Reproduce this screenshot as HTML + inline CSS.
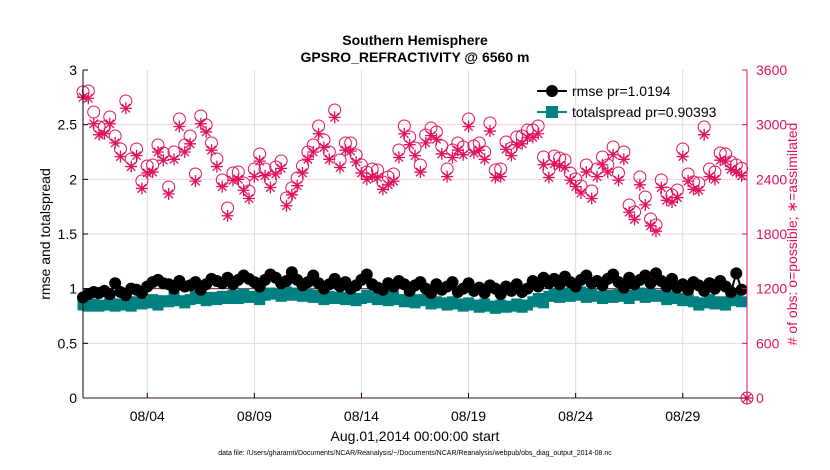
<!DOCTYPE html>
<html><head><meta charset="utf-8"><style>
body{margin:0;background:#fff;}
svg{display:block;font-family:"Liberation Sans",sans-serif;}
</style></head><body>
<svg id="chart" width="830" height="470" viewBox="0 0 830 470" xmlns="http://www.w3.org/2000/svg">
<text x="415" y="45" text-anchor="middle" font-size="14" font-weight="bold">Southern Hemisphere</text>
<text x="415" y="62" text-anchor="middle" font-size="14" font-weight="bold">GPSRO_REFRACTIVITY @ 6560 m</text>
<g id="grid"></g>
<g id="marks"></g>
<g id="axes"></g>
<text transform="translate(50,234) rotate(-90)" text-anchor="middle" font-size="14">rmse and totalspread</text>
<text transform="translate(797,234) rotate(-90)" text-anchor="middle" font-size="14" fill="#e0115f"># of obs: o=possible; ∗=assimilated</text>
<text x="415" y="441" text-anchor="middle" font-size="14">Aug.01,2014 00:00:00 start</text>
<text x="415" y="455" text-anchor="middle" font-size="7">data file: /Users/gharamti/Documents/NCAR/Reanalysis/~/Documents/NCAR/Reanalysis/webpub/obs_diag_output_2014-08.nc</text>
<g>
<line x1="537" y1="91" x2="567" y2="91" stroke="#000" stroke-width="2"/>
<circle cx="552" cy="91" r="6" fill="#000"/>
<text x="572" y="96" font-size="14">rmse pr=1.0194</text>
<line x1="537" y1="112" x2="567" y2="112" stroke="#008080" stroke-width="2"/>
<rect x="546" y="106" width="12" height="12" fill="#008080"/>
<text x="572" y="117" font-size="14">totalspread pr=0.90393</text>
</g>
</svg>
<script>
const xTickLabels=["08/04","08/09","08/14","08/19","08/24","08/29"];
const xTickDays=[3,8,13,18,23,28];
const yLeftTicks=[0,0.5,1,1.5,2,2.5,3];
const yRightTicks=[0,600,1200,1800,2400,3000,3600];
const rmse=[0.92,0.95,0.97,0.96,0.98,0.95,1.05,0.97,0.94,1.00,0.99,0.96,1.02,1.06,1.08,1.05,1.04,1.00,1.07,1.02,1.03,1.06,0.99,1.04,1.09,1.07,1.05,1.10,1.04,1.08,1.12,1.09,1.06,1.02,1.08,1.13,1.10,1.05,1.07,1.15,1.08,1.03,1.06,1.12,1.05,1.00,1.04,1.09,1.02,1.06,1.00,1.03,1.08,1.13,1.04,1.01,0.99,1.05,1.02,1.07,1.04,0.98,1.03,1.06,1.00,0.96,1.04,0.99,1.02,1.06,0.97,1.00,1.05,0.98,1.01,0.96,1.03,1.00,0.95,1.02,0.98,1.04,0.97,1.00,1.07,1.02,1.10,1.05,1.09,1.04,1.11,1.06,1.02,1.08,1.12,1.05,1.07,1.03,1.09,1.13,1.06,1.01,1.10,1.04,1.08,1.12,1.05,1.14,1.07,1.02,1.09,1.01,1.04,0.99,1.06,1.03,0.98,1.05,1.00,1.07,1.02,0.97,1.14,0.99];
const spread=[0.85,0.84,0.86,0.84,0.85,0.87,0.84,0.86,0.85,0.84,0.88,0.86,0.87,0.90,0.85,0.89,0.88,0.92,0.89,0.87,0.90,0.94,0.91,0.89,0.92,0.90,0.93,0.91,0.94,0.91,0.95,0.92,0.93,0.90,0.94,0.96,0.95,0.93,0.97,0.94,0.96,0.93,0.95,0.92,0.94,0.90,0.93,0.91,0.92,0.90,0.93,0.89,0.91,0.94,0.92,0.90,0.92,0.89,0.93,0.90,0.88,0.91,0.87,0.90,0.89,0.86,0.88,0.87,0.85,0.88,0.86,0.84,0.87,0.85,0.83,0.86,0.84,0.82,0.85,0.83,0.84,0.86,0.83,0.85,0.88,0.91,0.87,0.93,0.95,0.92,0.96,0.93,0.94,0.97,0.92,0.95,0.93,0.91,0.94,0.92,0.95,0.93,0.91,0.94,0.96,0.92,0.95,0.93,0.94,0.90,0.93,0.91,0.89,0.92,0.88,0.85,0.87,0.90,0.86,0.88,0.85,0.89,0.92,0.88];
const possible=[3359,3370,3139,2974,2974,3084,2876,2733,3260,2623,2733,2382,2546,2557,2777,2689,2316,2700,3062,2777,2876,2459,3095,2996,2799,2623,2393,2085,2470,2480,2360,2272,2513,2678,2513,2393,2535,2601,2195,2305,2415,2546,2700,2777,2985,2832,2700,3161,2612,2799,2799,2667,2557,2480,2513,2502,2371,2426,2459,2722,2985,2865,2744,2557,2887,2963,2920,2766,2513,2722,2799,2755,3062,2766,2799,2700,3018,2502,2513,2810,2744,2865,2876,2942,2942,2985,2645,2502,2656,2634,2612,2470,2404,2327,2557,2272,2513,2645,2557,2755,2470,2700,2118,2041,2426,2206,1965,1899,2393,2250,2228,2283,2733,2459,2371,2360,2974,2513,2480,2689,2678,2590,2557,2520,0];
const assimilated=[3300,3290,3010,2890,2900,3010,2800,2650,3180,2540,2660,2300,2470,2480,2700,2610,2240,2620,2980,2700,2790,2380,3010,2920,2720,2540,2320,2000,2390,2400,2280,2190,2430,2600,2440,2310,2460,2520,2110,2230,2330,2470,2620,2700,2900,2750,2620,3080,2530,2720,2710,2590,2470,2400,2430,2420,2290,2340,2380,2640,2900,2780,2660,2480,2800,2880,2840,2680,2430,2640,2720,2670,2980,2690,2720,2620,2930,2420,2430,2730,2660,2780,2790,2860,2860,2900,2560,2420,2570,2550,2530,2390,2320,2250,2480,2190,2430,2560,2480,2670,2390,2620,2040,1960,2340,2120,1890,1830,2310,2170,2150,2200,2650,2380,2290,2280,2890,2430,2400,2610,2600,2510,2480,2440,0];

const X0=83,X1=747,Y0=398,Y1=70,NS="http://www.w3.org/2000/svg";
function xs(d){return X0+d/31*(X1-X0);}
function yl(v){return Y0-v/3*(Y0-Y1);}
function yr(v){return Y0-v/3600*(Y0-Y1);}
function mk(tag,attrs,parent){const e=document.createElementNS(NS,tag);for(const k in attrs)e.setAttribute(k,attrs[k]);parent.appendChild(e);return e;}
const grid=document.getElementById('grid'),marks=document.getElementById('marks'),axes=document.getElementById('axes');
const PINK="#e0115f";
xTickDays.forEach((d,i)=>{
  const l=mk('line',{x1:xs(d),x2:xs(d),y1:Y1,y2:Y0,stroke:"#dcdcdc","stroke-width":1},grid);
  
  
  const t=mk('line',{x1:xs(d),x2:xs(d),y1:Y0,y2:Y0-5,stroke:"#000"},axes);
  
  
  const tx=mk('text',{x:xs(d),y:421,"text-anchor":"middle","font-size":14},axes);
  tx.textContent=xTickLabels[i];
  
  
});
yRightTicks.forEach(v=>{
  if(v>0&&v<3600){const l=mk('line',{x1:X0,x2:X1,y1:yr(v),y2:yr(v),stroke:"#f6d0dc","stroke-width":1},grid);
  
  }
  const tx=mk('text',{x:X1+9,y:yr(v)+5,"font-size":14,fill:PINK},axes);
  tx.textContent=v;
  
  
  mk('line',{x1:X1,x2:X1-5,y1:yr(v),y2:yr(v),stroke:PINK},axes);
});
yLeftTicks.forEach(v=>{
  const tx=mk('text',{x:X0-6,y:yl(v)+5,"font-size":14,"text-anchor":"end"},axes);
  tx.textContent=v;
  
  
  mk('line',{x1:X0,x2:X0+5,y1:yl(v),y2:yl(v),stroke:"#000"},axes);
});
const ref=mk('line',{x1:X0,x2:X1,y1:yl(1),y2:yl(1),stroke:"#5a0a1e","stroke-width":0.8},grid);


mk('line',{x1:X0,x2:X0,y1:Y1,y2:Y0,stroke:"#000"},axes);
mk('line',{x1:X0,x2:X1,y1:Y0,y2:Y0,stroke:"#3c1020"},axes);
mk('line',{x1:X1,x2:X1,y1:Y1,y2:Y0,stroke:PINK},axes);
possible.forEach((v,i)=>{
  const c=mk('circle',{cx:xs(i*0.25),cy:yr(v),r:6,fill:"none",stroke:PINK,"stroke-width":1},marks);
  
  
});
assimilated.forEach((v,i)=>{
  const x=xs(i*0.25),y=yr(v),s=6;
  const p=mk('path',{d:`M${x-s} ${y}H${x+s}M${x} ${y-s}V${y+s}M${x-4.2} ${y-4.2}L${x+4.2} ${y+4.2}M${x-4.2} ${y+4.2}L${x+4.2} ${y-4.2}`,stroke:PINK,"stroke-width":1.3,fill:"none"},marks);
  
  
});
const sp=mk('polyline',{points:spread.map((v,i)=>xs(i*0.25)+","+yl(v)).join(" "),fill:"none",stroke:"#008080","stroke-width":2},marks);


spread.forEach((v,i)=>{
  const r=mk('rect',{x:xs(i*0.25)-5.5,y:yl(v)-5.5,width:11,height:11,fill:"#008080"},marks);
  
  
});
const rl=mk('polyline',{points:rmse.map((v,i)=>xs(i*0.25)+","+yl(v)).join(" "),fill:"none",stroke:"#000","stroke-width":2},marks);


rmse.forEach((v,i)=>{
  const c=mk('circle',{cx:xs(i*0.25),cy:yl(v),r:6,fill:"#000"},marks);
  
  
});
</script>
</body></html>
